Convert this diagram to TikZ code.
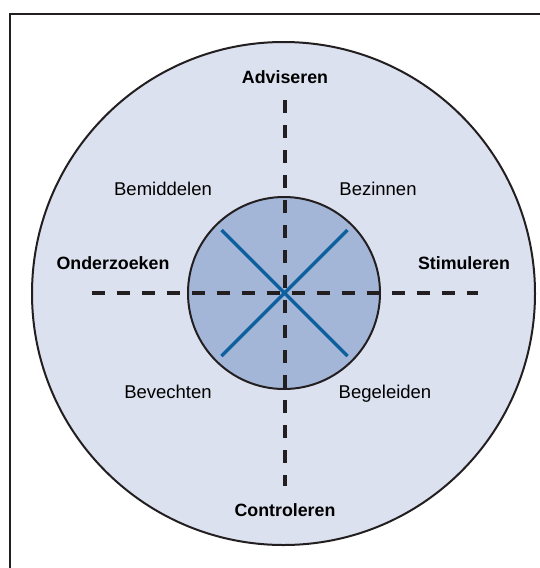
\documentclass[tikz,border=0pt]{standalone}
\usepackage{fontspec}
\setmainfont{Liberation Sans}
\usetikzlibrary{calc}
\definecolor{RoleLine}{HTML}{231F20}
\definecolor{RolePaleBlue}{HTML}{DCE1EF}
\definecolor{RoleMidBlue}{HTML}{A4B6D8}
\definecolor{RoleBlue}{HTML}{0E5F9E}
\tikzset{
  ring/.style={circle, draw=RoleLine, line width=2pt, inner sep=0pt},
  axis/.style={draw=RoleLine, line width=4pt, dash pattern=on 13pt off 12pt},
  cross/.style={draw=RoleBlue, line width=3.3pt},
  role/.style={font=\bfseries\fontsize{17.8}{20}\selectfont, inner sep=0pt,
               text height=12.7pt, text depth=0pt},
  mode/.style={font=\fontsize{18.5}{21}\selectfont, inner sep=0pt,
               text height=13.2pt, text depth=0pt},
}

\begin{document}
\begin{tikzpicture}[x=1pt,y=-1pt]
        \useasboundingbox (0,0) rectangle (540,568);
        \clip (0,0) rectangle (540,568);
        \draw[RoleLine, line width=1.8pt] (10,600) |- (560,14);
        % circles
        \node[ring, fill=RolePaleBlue, minimum size=503pt] (outer) at (283.5,293.5) {};
        \node[ring, fill=RoleMidBlue, minimum size=192pt] (inner) at (284,293) {};
        \coordinate (c) at (284.5,293);
        % axes
        \coordinate (w) at ($(c)+(-193,0)$);
        \coordinate (e) at ($(c)+(193,0)$);
        \coordinate (n) at ($(c)+(0,-193)$);
        \coordinate (s) at ($(c)+(0,193)$);
        \draw[axis] (w) -- (e);
        \draw[axis] (n) -- (s);
        % cross
        \draw[cross] ($(c)+(-63,-63)$) -- ($(c)+(63,63)$);
        \draw[cross] ($(c)+(-63,63)$) -- ($(c)+(63,-63)$);
        % labels
        \node[role] (adv) at (285,77) {Adviseren};
        \node[role] (con) at (285,510) {Controleren};
        \node[role] (ond) at (113,263) {Onderzoeken};
        \node[role] (sti) at (464,263) {Stimuleren};
        \node[mode] (bem) at (163,189) {Bemiddelen};
        \node[mode] (bez) at (378,189) {Bezinnen};
        \node[mode] (bev) at (168,392) {Bevechten};
        \node[mode] (beg) at (385,392) {Begeleiden};
      \end{tikzpicture}
\end{document}
